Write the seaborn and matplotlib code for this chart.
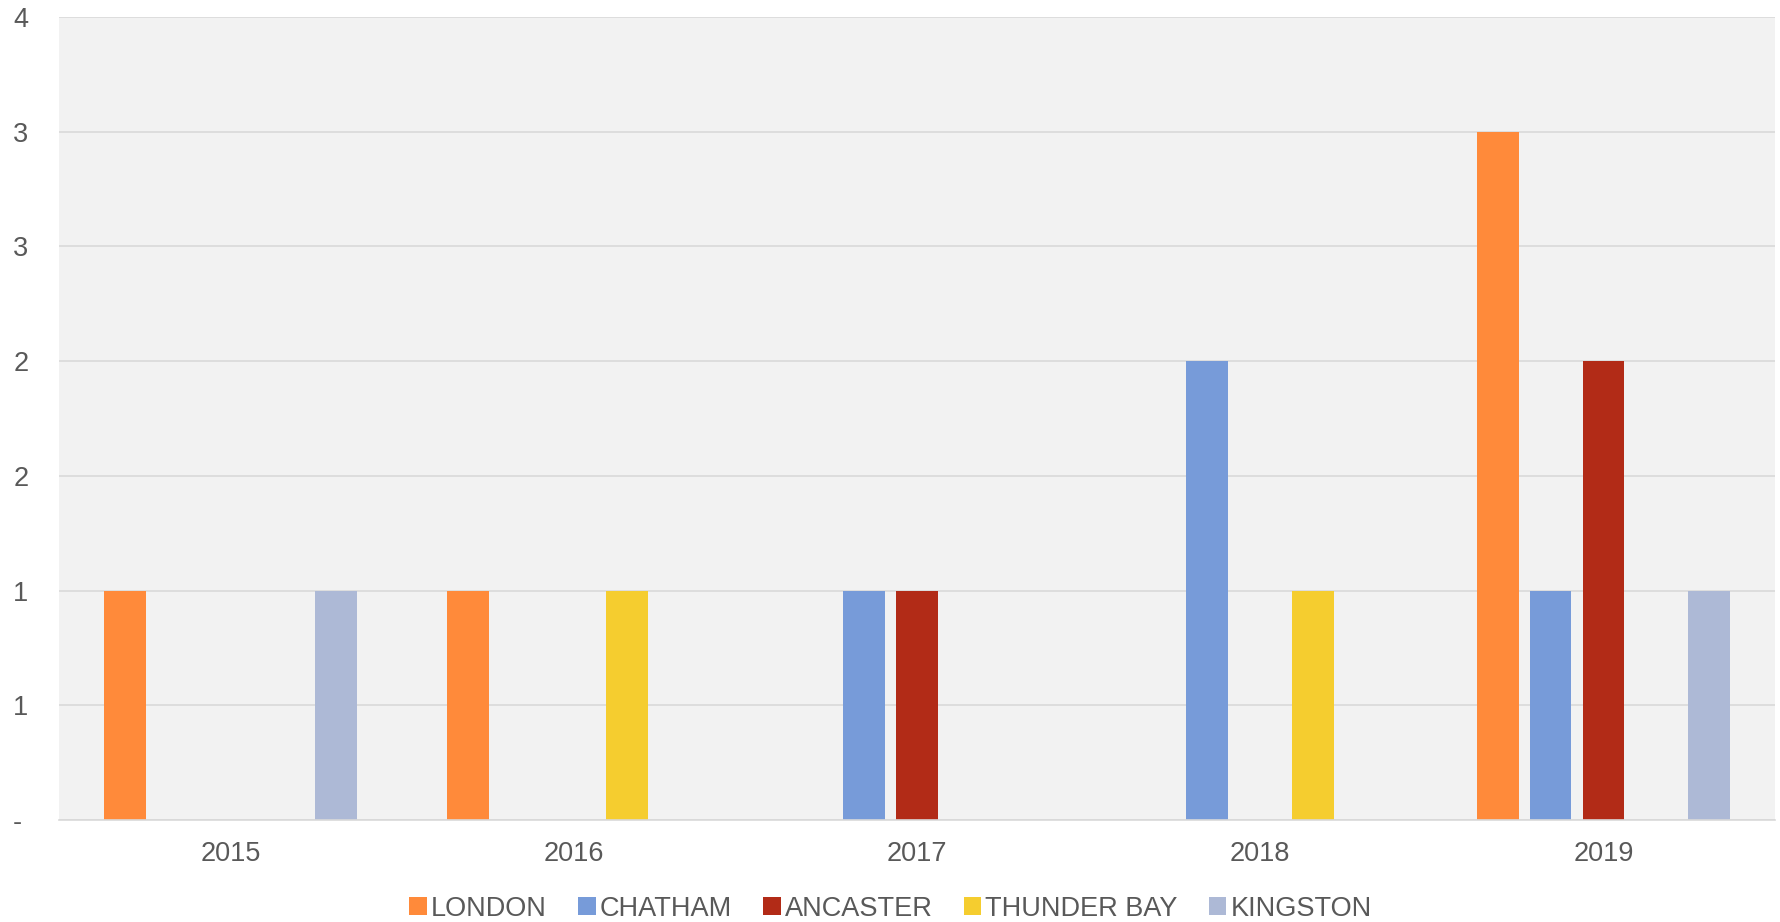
import matplotlib
matplotlib.use("Agg")
import matplotlib.pyplot as plt
import seaborn as sns
import pandas as pd
from matplotlib.ticker import FuncFormatter, MultipleLocator

years = ["2015", "2016", "2017", "2018", "2019"]
cities = ["LONDON", "CHATHAM", "ANCASTER", "THUNDER BAY", "KINGSTON"]
london = [1, 1, 0, 0, 3]
chatham = [0, 0, 1, 2, 1]
ancaster = [0, 0, 1, 0, 2]
thunder_bay = [0, 1, 0, 1, 0]
kingston = [1, 0, 0, 0, 1]
colors = ["#FF8A3A", "#779BD9", "#B22B17", "#F5CD2F", "#ADB9D6"]

rows = []
for city, vals in zip(cities, [london, chatham, ancaster, thunder_bay, kingston]):
    for y, v in zip(years, vals):
        if v > 0:
            rows.append({"Year": y, "City": city, "Count": v})
df = pd.DataFrame(rows)

sns.set_style("white")
plt.rcParams["font.family"] = ["Liberation Sans", "DejaVu Sans"]
text_color = "#595959"

fig = plt.figure(figsize=(17.81, 9.22), dpi=100)
ax = fig.add_axes([59 / 1781, 1 - 820 / 922, (1775 - 59) / 1781, (820 - 17) / 922])
ax.set_facecolor("#F2F2F2")

sns.barplot(data=df, x="Year", y="Count", hue="City", order=years, hue_order=cities,
            palette=colors, saturation=1, width=0.77, gap=0.21, errorbar=None,
            linewidth=0, ax=ax)

ax.set_ylim(0, 3.5)
ax.yaxis.set_major_locator(MultipleLocator(0.5))

def fmt(v, pos):
    if abs(v) < 1e-9:
        return "-"
    return str(int(v + 0.5))

ax.yaxis.set_major_formatter(FuncFormatter(fmt))
ax.grid(axis="y", color="#D9D9D9", linewidth=1.2)
ax.set_axisbelow(True)
for s in ["left", "right", "top"]:
    ax.spines[s].set_visible(False)
ax.spines["bottom"].set_color("#D9D9D9")
ax.spines["bottom"].set_linewidth(1.2)

ax.tick_params(axis="y", length=0, pad=33, labelsize=19.5, labelcolor=text_color)
for lab in ax.get_yticklabels():
    lab.set_horizontalalignment("left")
ax.tick_params(axis="x", length=0, pad=15, labelsize=19.5, labelcolor=text_color)
ax.set_xlabel("")
ax.set_ylabel("")

handles, labels = ax.get_legend_handles_labels()
ax.get_legend().remove()
fig.legend(handles, labels, loc="lower center", bbox_to_anchor=(0.5, -0.026), ncol=5,
           frameon=False, fontsize=19.5, labelcolor=text_color, handlelength=0.65,
           handleheight=0.65, handletextpad=0.15, columnspacing=1.15)

fig.savefig("out.png", dpi=100)
